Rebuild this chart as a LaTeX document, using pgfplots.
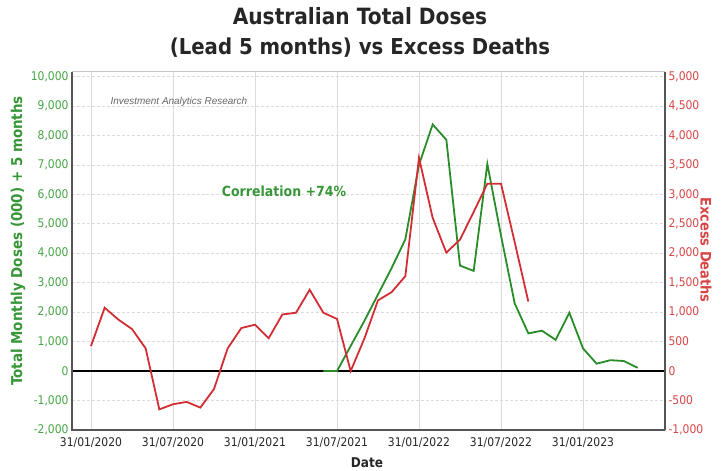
\documentclass[border=0pt]{standalone}
\usepackage{fontspec}
\setmainfont{DejaVu Sans}[FakeStretch=0.9]
\newfontfamily\labelfont{Liberation Sans}
\usepackage{pgfplots}
\pgfplotsset{compat=1.18}

\definecolor{gline}{RGB}{40,140,40}
\definecolor{rline}{RGB}{210,45,50}
\definecolor{gtext}{RGB}{70,165,70}
\definecolor{gtextd}{RGB}{55,150,55}
\definecolor{rtext}{RGB}{215,70,70}
\definecolor{axgray}{RGB}{85,85,85}

\begin{document}
\begin{tikzpicture}
\path[use as bounding box] (-72bp,-41bp) rectangle (649bp,430bp);
\begin{axis}[
  at={(0,0)}, anchor=south west,
  scale only axis, width=593bp, height=358bp,
  xmin=-1.39, xmax=42, ymin=-2000, ymax=10150,
  axis line style={draw=none},
  tick style={draw=none},
  xtick={0,6,12,18,24,30,36},
  xticklabels={31/01/2020,31/07/2020,31/01/2021,31/07/2021,31/01/2022,31/07/2022,31/01/2023},
  ytick={-2000,-1000,...,10000},
  scaled y ticks=false,
  /pgf/number format/assume math mode=true,
  /pgf/number format/1000 sep={,},
  yticklabel style={text=gtext, font=\fontsize{12}{14}\selectfont},
  xticklabel style={text=black!85, font=\fontsize{12}{14}\selectfont, yshift=-4bp},
  ytick pos=left, xtick pos=bottom,
  grid=major,
  grid style={gray!28, line width=0.6pt},
  y grid style={dash pattern=on 3pt off 2pt},
  clip=false,
]
\addplot[black, line width=1.3pt] coordinates {(-1.39,0) (42,0)};
\addplot[gline, line width=1.8pt] coordinates {
(17,0) (18,0) (19,850) (20,1700) (21,2600) (22,3500) (23,4470) (24,7000)
(25,8370) (26,7850) (27,3580) (28,3400) (29,7030) (30,4600) (31,2300)
(32,1280) (33,1370) (34,1060) (35,1980) (36,770) (37,250) (38,370)
(39,340) (40,110)};
\draw[gray!45, line width=1pt] (rel axis cs:0,1) -- (rel axis cs:1,1);
\draw[axgray, line width=1.6pt] (rel axis cs:1,0) -- (rel axis cs:1,1);
\draw[axgray, line width=2.6pt] (rel axis cs:0,-0.004) -- (rel axis cs:0,1);
\draw[axgray, line width=2.6pt] (rel axis cs:0,0) -- (rel axis cs:1,0);
\end{axis}
\begin{axis}[
  at={(0,0)}, anchor=south west,
  scale only axis, width=593bp, height=358bp,
  xmin=-1.39, xmax=42, ymin=-1000, ymax=5075,
  axis x line=none,
  axis y line*=right,
  y axis line style={draw=none},
  tick style={draw=none},
  ytick={-1000,-500,...,5000},
  scaled y ticks=false,
  /pgf/number format/assume math mode=true,
  /pgf/number format/1000 sep={,},
  yticklabel style={text=rtext, font=\fontsize{12}{14}\selectfont},
  clip=false,
]
\addplot[rline, line width=1.8pt] coordinates {
(0,425) (1,1075) (2,874) (3,713) (4,385) (5,-650) (6,-563) (7,-523)
(8,-620) (9,-305) (10,385) (11,730) (12,787) (13,557) (14,960) (15,990)
(16,1380) (17,990) (18,885) (19,0) (20,550) (21,1200) (22,1340) (23,1610)
(24,3620) (25,2600) (26,2010) (27,2230) (28,2700) (29,3180) (30,3180)
(31,2190) (32,1180)};
\end{axis}
\node[anchor=base, font=\bfseries\fontsize{22.5}{24}\selectfont, text=black!85] at (288bp,405bp) {Australian Total Doses};
\node[anchor=base, font=\bfseries\fontsize{22}{24}\selectfont, text=black!85] at (288bp,375bp) {(Lead 5 months) vs Excess Deaths};
\node[rotate=90, font=\bfseries\fontsize{15}{16}\selectfont, text=gtextd] at (-54bp,189bp) {Total Monthly Doses (000) + 5 months};
\node[rotate=-90, font=\bfseries\fontsize{14.5}{16}\selectfont, text=rtext] at (634bp,180bp) {Excess Deaths};
\node[inner sep=0pt, font=\bfseries\fontsize{13.5}{15}\selectfont, text=black!85] at (295bp,-33bp) {Date};
\node[anchor=west, font=\labelfont\itshape\fontsize{10}{12}\selectfont, text=black!60] at (35bp,328bp) {Investment Analytics Research};
\node[font=\bfseries\fontsize{14}{16}\selectfont, text=gtextd] at (212bp,239bp) {Correlation +74\%};
\end{tikzpicture}
\end{document}
